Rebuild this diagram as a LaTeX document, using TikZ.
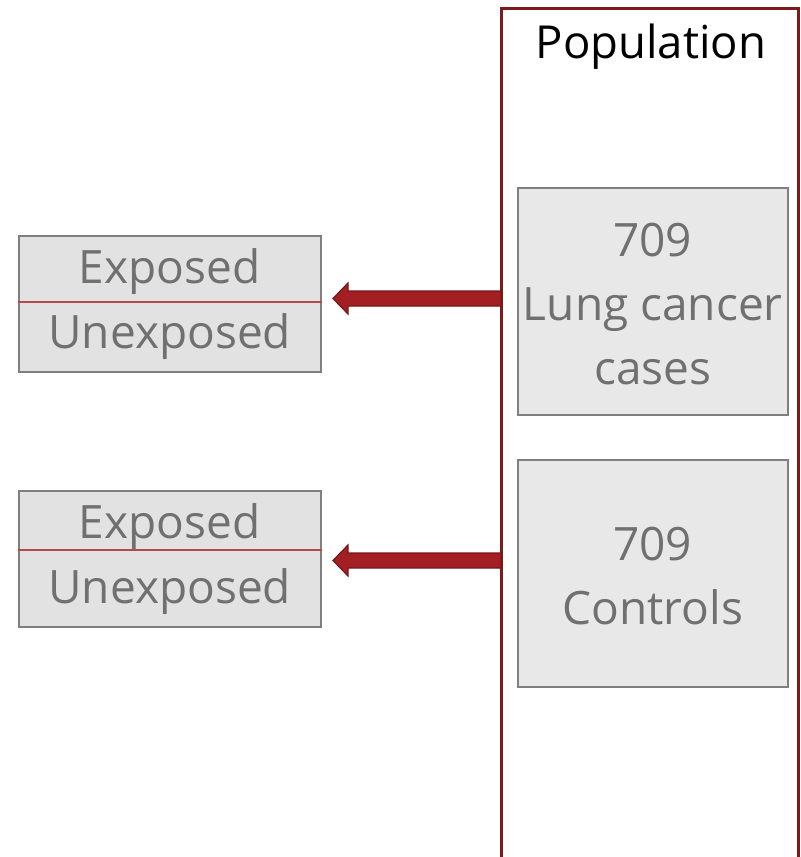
\documentclass[tikz,border=0pt]{standalone}
\usepackage{fontspec}
\setmainfont{Open Sans}
\usetikzlibrary{calc}

\definecolor{frameRed}{HTML}{7F1A1A}
\definecolor{arrowRed}{HTML}{A31F24}
\definecolor{arrowEdge}{HTML}{7A1518}
\definecolor{splitRed}{HTML}{B5494A}
\definecolor{boxEdge}{HTML}{7F7F7F}
\definecolor{boxFillL}{HTML}{E2E2E2}
\definecolor{boxFillR}{HTML}{E8E8E8}
\definecolor{txtGray}{HTML}{707070}

\tikzset{
  bigfont/.style={font=\fontsize{46bp}{64bp}\selectfont},
  exbox/.style={draw=boxEdge, line width=1.5bp, fill=boxFillL, inner sep=0pt,
    minimum width=302bp, minimum height=136bp, anchor=north west},
  groupbox/.style={draw=boxEdge, line width=1.5bp, fill=boxFillR, inner sep=0pt,
    minimum width=270bp, minimum height=227bp, anchor=north west},
  grouptext/.style={bigfont, text=txtGray, align=center, inner sep=0pt},
  extext/.style={bigfont, text=txtGray, inner sep=0pt},
  splitline/.style={draw=splitRed, line width=1.2bp},
  popframe/.style={draw=frameRed, line width=3bp},
  bigarrow/.style={fill=arrowRed, draw=arrowEdge, line width=1.2bp, line join=miter},
}

\begin{document}
\begin{tikzpicture}[x=1bp, y=-1bp]
\useasboundingbox (0,0) rectangle (801,857);

% population frame, open at the bottom
\node[inner sep=0pt, minimum width=297bp, minimum height=860bp, anchor=north west] (pop) at (501,8) {};
\draw[popframe] (pop.south west) -- (pop.north west) -- (pop.north east) -- (pop.south east);
\node[font=\fontsize{45.5bp}{53bp}\selectfont, text=black, inner sep=0pt] (poplabel) at (651,47) {Population};

% groups inside the population
\node[groupbox] (cases) at (517,187) {};
\node[grouptext] (casestext) at ($(cases.center)+(0,3)$) {709\\Lung cancer\\cases};
\node[groupbox] (controls) at (517,459) {};
\node[grouptext] (controlstext) at ($(controls.center)+(0,3)$) {709\\Controls};

% exposure boxes
\node[exbox] (ex1) at (18,235) {};
\draw[splitline] ($(ex1.north west)+(0,67)$) coordinate (d1) -- (d1 -| ex1.east);
\node[extext] (ex1a) at ($(ex1.north)+(0,37)$) {Exposed};
\node[extext] (ex1b) at ($(ex1.north)+(0,102)$) {Unexposed};

\node[exbox] (ex2) at (18,490) {};
\draw[splitline] ($(ex2.north west)+(0,60)$) coordinate (d2) -- (d2 -| ex2.east);
\node[extext] (ex2a) at ($(ex2.north)+(0,37)$) {Exposed};
\node[extext] (ex2b) at ($(ex2.north)+(0,102)$) {Unexposed};

% block arrows from the population towards the exposure boxes
\coordinate (tip1) at (333,298.5);
\coordinate (tip2) at (333,560.5);
\foreach \t in {tip1,tip2}{
  \draw[bigarrow] (\t) -- ($(\t)+(15,-15.5)$) -- ($(\t)+(15,-7.5)$)
    -- ($(\t -| pop.west)+(0,-7.5)$) -- ($(\t -| pop.west)+(0,7.5)$)
    -- ($(\t)+(15,7.5)$) -- ($(\t)+(15,15.5)$) -- cycle;
}
\end{tikzpicture}
\end{document}
